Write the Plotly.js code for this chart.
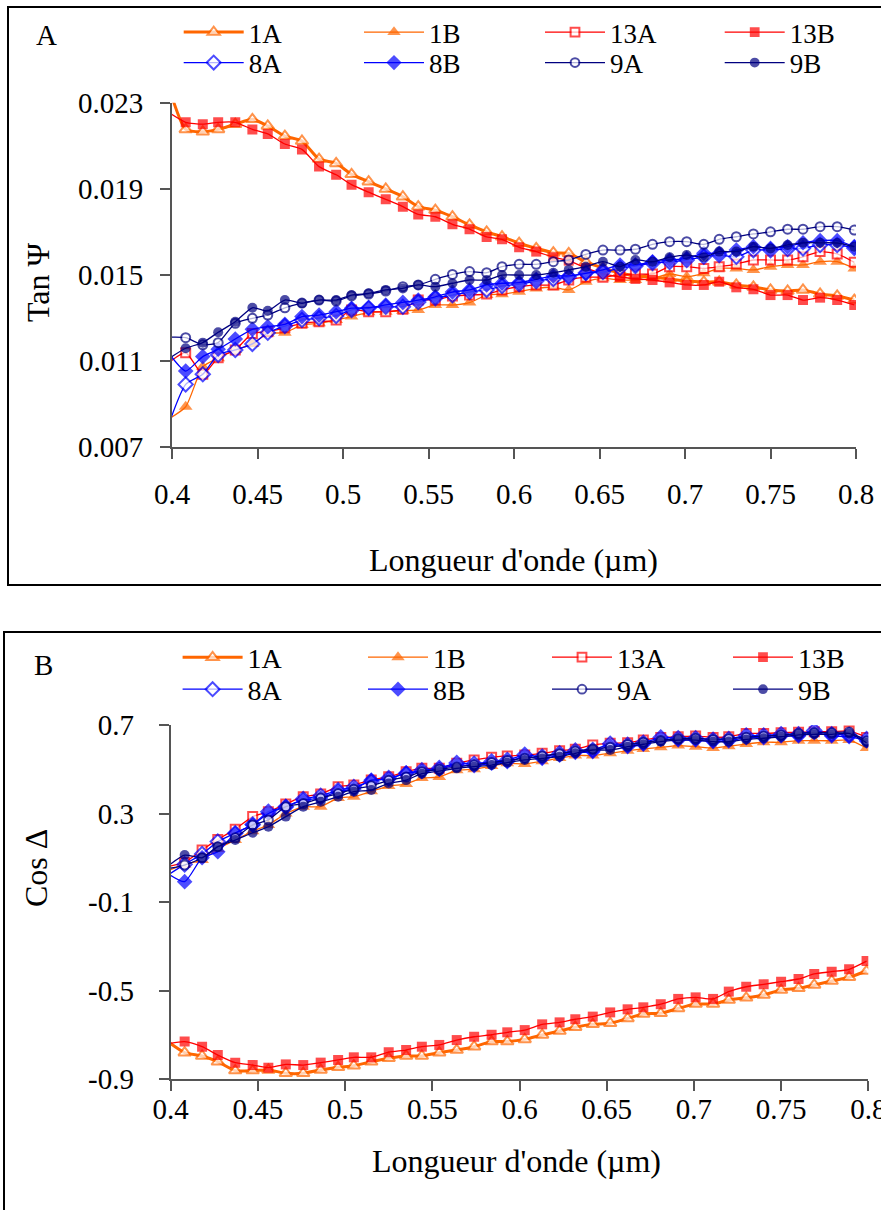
<!DOCTYPE html>
<html><head><meta charset="utf-8">
<script src="https://cdn.plot.ly/plotly-3.0.1.min.js"></script>
<style>html,body{margin:0;padding:0;background:#fff}#chart{width:881px;height:1210px}</style>
</head><body><div id="chart"></div>
<script>
// ---------------- data ----------------
const wavelength = [0.398, 0.408, 0.418, 0.427, 0.437, 0.447, 0.456, 0.466, 0.476, 0.486, 0.496, 0.505, 0.515, 0.525, 0.535, 0.544, 0.554, 0.564, 0.574, 0.584, 0.593, 0.603, 0.613, 0.623, 0.632, 0.642, 0.652, 0.662, 0.671, 0.681, 0.691, 0.701, 0.711, 0.720, 0.730, 0.740, 0.750, 0.760, 0.769, 0.779, 0.789, 0.799];
const seriesNames = ['1A', '1B', '13A', '13B', '8A', '8B', '9A', '9B'];

// Panel A : Tan Psi
const tanPsi_1A = [0.02376, 0.02176, 0.02165, 0.02176, 0.02200, 0.02223, 0.02192, 0.02145, 0.02122, 0.02038, 0.02018, 0.01967, 0.01933, 0.01899, 0.01863, 0.01817, 0.01801, 0.01770, 0.01732, 0.01700, 0.01677, 0.01647, 0.01623, 0.01603, 0.01600, 0.01560, 0.01532, 0.01509, 0.01495, 0.01490, 0.01481, 0.01471, 0.01467, 0.01467, 0.01453, 0.01444, 0.01430, 0.01425, 0.01430, 0.01411, 0.01402, 0.01383];
const tanPsi_1B = [0.00830, 0.00887, 0.01073, 0.01112, 0.01151, 0.01179, 0.01228, 0.01231, 0.01267, 0.01275, 0.01290, 0.01306, 0.01326, 0.01329, 0.01333, 0.01337, 0.01360, 0.01360, 0.01371, 0.01406, 0.01410, 0.01422, 0.01437, 0.01442, 0.01430, 0.01468, 0.01484, 0.01476, 0.01476, 0.01484, 0.01504, 0.01491, 0.01507, 0.01530, 0.01530, 0.01523, 0.01538, 0.01546, 0.01546, 0.01561, 0.01561, 0.01530];
const tanPsi_13A = [0.01091, 0.01138, 0.01038, 0.01115, 0.01151, 0.01228, 0.01236, 0.01254, 0.01275, 0.01282, 0.01290, 0.01337, 0.01329, 0.01329, 0.01340, 0.01383, 0.01383, 0.01402, 0.01406, 0.01411, 0.01430, 0.01445, 0.01453, 0.01453, 0.01476, 0.01489, 0.01489, 0.01499, 0.01504, 0.01504, 0.01538, 0.01538, 0.01530, 0.01538, 0.01550, 0.01569, 0.01569, 0.01569, 0.01584, 0.01608, 0.01597, 0.01558];
const tanPsi_13B = [0.02255, 0.02209, 0.02200, 0.02209, 0.02209, 0.02176, 0.02155, 0.02108, 0.02083, 0.02003, 0.01965, 0.01919, 0.01884, 0.01851, 0.01817, 0.01781, 0.01770, 0.01735, 0.01712, 0.01676, 0.01665, 0.01628, 0.01608, 0.01582, 0.01566, 0.01532, 0.01504, 0.01490, 0.01481, 0.01476, 0.01465, 0.01453, 0.01453, 0.01468, 0.01442, 0.01433, 0.01406, 0.01406, 0.01383, 0.01394, 0.01383, 0.01360];
const tanPsi_8A = [0.00804, 0.00991, 0.01038, 0.01128, 0.01151, 0.01179, 0.01231, 0.01262, 0.01290, 0.01299, 0.01309, 0.01337, 0.01346, 0.01352, 0.01352, 0.01374, 0.01392, 0.01406, 0.01420, 0.01430, 0.01448, 0.01457, 0.01471, 0.01481, 0.01490, 0.01509, 0.01513, 0.01532, 0.01541, 0.01555, 0.01560, 0.01569, 0.01584, 0.01592, 0.01584, 0.01615, 0.01615, 0.01620, 0.01623, 0.01639, 0.01639, 0.01625];
const tanPsi_8B = [0.01137, 0.01053, 0.01120, 0.01154, 0.01202, 0.01247, 0.01259, 0.01270, 0.01306, 0.01313, 0.01329, 0.01345, 0.01347, 0.01360, 0.01372, 0.01383, 0.01398, 0.01420, 0.01430, 0.01453, 0.01461, 0.01464, 0.01479, 0.01495, 0.01495, 0.01507, 0.01523, 0.01546, 0.01546, 0.01561, 0.01569, 0.01577, 0.01600, 0.01600, 0.01615, 0.01631, 0.01623, 0.01631, 0.01649, 0.01659, 0.01659, 0.01631];
const tanPsi_9A = [0.01210, 0.01208, 0.01175, 0.01185, 0.01275, 0.01298, 0.01313, 0.01347, 0.01369, 0.01383, 0.01378, 0.01402, 0.01411, 0.01425, 0.01445, 0.01453, 0.01479, 0.01502, 0.01515, 0.01510, 0.01538, 0.01549, 0.01549, 0.01561, 0.01569, 0.01595, 0.01615, 0.01615, 0.01619, 0.01642, 0.01654, 0.01654, 0.01642, 0.01665, 0.01677, 0.01690, 0.01700, 0.01712, 0.01712, 0.01724, 0.01724, 0.01708];
const tanPsi_9B = [0.01110, 0.01159, 0.01185, 0.01233, 0.01282, 0.01347, 0.01333, 0.01383, 0.01368, 0.01383, 0.01383, 0.01406, 0.01414, 0.01430, 0.01437, 0.01453, 0.01445, 0.01461, 0.01476, 0.01476, 0.01499, 0.01499, 0.01499, 0.01510, 0.01523, 0.01538, 0.01561, 0.01538, 0.01569, 0.01561, 0.01582, 0.01592, 0.01582, 0.01608, 0.01608, 0.01631, 0.01623, 0.01639, 0.01649, 0.01649, 0.01648, 0.01631];

// Panel B : Cos Delta
const cosDelta_1A = [-0.729, -0.781, -0.796, -0.822, -0.862, -0.862, -0.859, -0.874, -0.874, -0.859, -0.847, -0.840, -0.822, -0.806, -0.796, -0.796, -0.781, -0.769, -0.754, -0.731, -0.731, -0.721, -0.701, -0.683, -0.666, -0.653, -0.648, -0.626, -0.606, -0.603, -0.581, -0.561, -0.561, -0.543, -0.533, -0.520, -0.498, -0.490, -0.475, -0.457, -0.440, -0.412];
const cosDelta_1B = [0.040, 0.070, 0.090, 0.140, 0.180, 0.220, 0.248, 0.300, 0.330, 0.331, 0.370, 0.376, 0.400, 0.424, 0.433, 0.460, 0.465, 0.495, 0.500, 0.515, 0.527, 0.524, 0.536, 0.551, 0.562, 0.562, 0.572, 0.584, 0.592, 0.599, 0.607, 0.602, 0.596, 0.604, 0.614, 0.622, 0.622, 0.629, 0.629, 0.629, 0.632, 0.596];
const cosDelta_13A = [0.060, 0.079, 0.135, 0.183, 0.229, 0.286, 0.308, 0.343, 0.376, 0.388, 0.421, 0.429, 0.451, 0.466, 0.489, 0.504, 0.504, 0.527, 0.542, 0.554, 0.560, 0.564, 0.572, 0.584, 0.590, 0.610, 0.617, 0.620, 0.632, 0.644, 0.647, 0.650, 0.644, 0.647, 0.662, 0.662, 0.665, 0.667, 0.670, 0.670, 0.673, 0.644];
const cosDelta_13B = [-0.741, -0.731, -0.754, -0.792, -0.826, -0.837, -0.849, -0.834, -0.837, -0.826, -0.814, -0.802, -0.802, -0.779, -0.769, -0.754, -0.746, -0.724, -0.709, -0.700, -0.689, -0.679, -0.653, -0.644, -0.630, -0.618, -0.599, -0.585, -0.576, -0.562, -0.538, -0.531, -0.538, -0.505, -0.483, -0.472, -0.460, -0.448, -0.425, -0.415, -0.404, -0.367];
const cosDelta_8A = [0.020, 0.070, 0.117, 0.173, 0.211, 0.250, 0.308, 0.330, 0.365, 0.380, 0.405, 0.420, 0.445, 0.460, 0.480, 0.495, 0.505, 0.528, 0.525, 0.535, 0.542, 0.565, 0.557, 0.572, 0.584, 0.587, 0.615, 0.610, 0.620, 0.643, 0.640, 0.640, 0.633, 0.637, 0.652, 0.652, 0.658, 0.658, 0.675, 0.658, 0.655, 0.636];
const cosDelta_8B = [0.030, -0.008, 0.100, 0.127, 0.211, 0.248, 0.300, 0.331, 0.360, 0.370, 0.400, 0.410, 0.451, 0.455, 0.484, 0.489, 0.500, 0.520, 0.516, 0.527, 0.534, 0.557, 0.549, 0.564, 0.576, 0.579, 0.606, 0.602, 0.613, 0.635, 0.632, 0.632, 0.625, 0.628, 0.643, 0.643, 0.650, 0.650, 0.665, 0.650, 0.647, 0.628];
const cosDelta_9A = [0.050, 0.067, 0.100, 0.150, 0.190, 0.248, 0.271, 0.331, 0.345, 0.370, 0.390, 0.410, 0.425, 0.450, 0.465, 0.489, 0.500, 0.510, 0.520, 0.530, 0.540, 0.550, 0.560, 0.570, 0.582, 0.592, 0.600, 0.612, 0.622, 0.630, 0.638, 0.640, 0.635, 0.638, 0.645, 0.650, 0.655, 0.662, 0.665, 0.665, 0.668, 0.628];
const cosDelta_9B = [0.060, 0.112, 0.100, 0.150, 0.180, 0.213, 0.240, 0.286, 0.331, 0.353, 0.376, 0.399, 0.406, 0.436, 0.451, 0.480, 0.492, 0.504, 0.512, 0.519, 0.530, 0.542, 0.549, 0.557, 0.572, 0.587, 0.587, 0.602, 0.613, 0.625, 0.632, 0.632, 0.625, 0.625, 0.635, 0.640, 0.647, 0.655, 0.658, 0.658, 0.662, 0.620];

// tick labels
const xTickVals = [0.4, 0.45, 0.5, 0.55, 0.6, 0.65, 0.7, 0.75, 0.8];
const xTickText = ['0.4', '0.45', '0.5', '0.55', '0.6', '0.65', '0.7', '0.75', '0.8'];
const tanTickVals = [0.007, 0.011, 0.015, 0.019, 0.023];
const tanTickText = ['0.007', '0.011', '0.015', '0.019', '0.023'];
const cosTickVals = [-0.9, -0.5, -0.1, 0.3, 0.7];
const cosTickText = ['-0.9', '-0.5', '-0.1', '0.3', '0.7'];

const xTitle = "Longueur d'onde (\u00B5m)";
const yTitleA = 'Tan \u03A8';
const yTitleB = 'Cos \u0394';

// ---------------- styling ----------------
const W = 881, H = 1210;
const FONT = 'Liberation Serif, Times New Roman, serif';
const px = v => v / W;
const py = v => 1 - v / H;

const styles = {
  '1A':  {color: '#FF6600', width: 3,   symbol: 'triangle-up', open: true,  size: 11},
  '1B':  {color: '#FF6600', width: 1.3, symbol: 'triangle-up', open: false, size: 12},
  '13A': {color: '#FF0000', width: 1.3, symbol: 'square',      open: true,  size: 9},
  '13B': {color: '#FF0000', width: 1.3, symbol: 'square',      open: false, size: 10},
  '8A':  {color: '#0000FF', width: 1.3, symbol: 'diamond',     open: true,  size: 11},
  '8B':  {color: '#0000FF', width: 1.3, symbol: 'diamond',     open: false, size: 12},
  '9A':  {color: '#000080', width: 1.3, symbol: 'circle',      open: true,  size: 9},
  '9B':  {color: '#000080', width: 1.3, symbol: 'circle',      open: false, size: 10}
};

const panelA = {'1A': tanPsi_1A, '1B': tanPsi_1B, '13A': tanPsi_13A, '13B': tanPsi_13B, '8A': tanPsi_8A, '8B': tanPsi_8B, '9A': tanPsi_9A, '9B': tanPsi_9B};
const panelB = {'1A': cosDelta_1A, '1B': cosDelta_1B, '13A': cosDelta_13A, '13B': cosDelta_13B, '8A': cosDelta_8A, '8B': cosDelta_8B, '9A': cosDelta_9A, '9B': cosDelta_9B};

// legend geometry (pixel positions of each legend column / row), font size per panel
const legCols = [[178.7, 359, 540, 719.7], [177.6, 363, 547, 728]];
const legRows = [[32.5, 63], [657.5, 689.5]];
const legFont = [27, 28];

const traces = [];
const layout = {
  width: W, height: H,
  margin: {l: 0, r: 0, t: 0, b: 0},
  paper_bgcolor: '#fff', plot_bgcolor: '#fff',
  font: {family: FONT, size: 29, color: '#000'},
  showlegend: true,
  annotations: [], shapes: []
};

[panelA, panelB].forEach((panel, p) => {
  seriesNames.forEach((name, i) => {
    const s = styles[name];
    const idx = p * 8 + i;
    const legId = idx === 0 ? 'legend' : 'legend' + (idx + 1);
    // first point lies just left of the axis (clipped): no marker for it
    const sizes = wavelength.map((w, k) => (k === 0 ? 0 : s.size));
    traces.push({
      type: 'scatter', mode: 'lines+markers', name: name,
      x: wavelength, y: panel[name],
      xaxis: p === 0 ? 'x' : 'x2', yaxis: p === 0 ? 'y' : 'y2',
      line: {color: s.color, width: s.width, shape: 'spline', smoothing: 0.6},
      marker: {symbol: s.symbol, size: sizes,
        color: s.open ? '#FFFFFF' : s.color,
        line: {color: s.color, width: s.open ? 2 : 0}},
      legend: legId, hoverinfo: 'skip'
    });
    const col = i % 4, row = Math.floor(i / 4);
    layout[legId] = {
      x: px(legCols[p][col]), xanchor: 'left',
      y: py(legRows[p][row]), yanchor: 'middle',
      orientation: 'v', bgcolor: 'rgba(0,0,0,0)', borderwidth: 0,
      itemwidth: 60, font: {family: FONT, size: legFont[p], color: '#000'}
    };
  });
});

const axisCommon = {
  showgrid: false, zeroline: false, showline: true,
  linecolor: '#555', linewidth: 2,
  ticks: 'outside', ticklen: 10, tickwidth: 2, tickcolor: '#555',
  tickfont: {family: FONT, size: 29, color: '#000'},
  tickmode: 'array', fixedrange: true, ticklabeloverflow: 'allow'
};

layout.xaxis = Object.assign({}, axisCommon, {
  domain: [px(172), px(856)], range: [0.4, 0.8], anchor: 'y',
  tickvals: xTickVals, ticktext: xTickText, ticklabelstandoff: 10
});
layout.yaxis = Object.assign({}, axisCommon, {
  domain: [py(447), py(102.7)], range: [0.007, 0.023], anchor: 'x',
  tickvals: tanTickVals, ticktext: tanTickText, ticklabelstandoff: 11
});
layout.xaxis2 = Object.assign({}, axisCommon, {
  domain: [px(170.7), px(868.3)], range: [0.4, 0.8], anchor: 'y2',
  tickvals: xTickVals, ticktext: xTickText, ticklabelstandoff: -7
});
layout.yaxis2 = Object.assign({}, axisCommon, {
  domain: [py(1079), py(725)], range: [-0.9, 0.7], anchor: 'x2',
  tickvals: cosTickVals, ticktext: cosTickText, ticklabelstandoff: 19
});

function ann(text, x, y, opts) {
  return Object.assign({text: text, xref: 'paper', yref: 'paper', x: px(x), y: py(y),
    xanchor: 'center', yanchor: 'middle', showarrow: false,
    font: {family: FONT, size: 32, color: '#000'}}, opts || {});
}
layout.annotations.push(
  ann('A', 46, 35, {font: {family: FONT, size: 29, color: '#000'}}),
  ann('B', 43, 665, {font: {family: FONT, size: 29, color: '#000'}}),
  ann(xTitle, 513, 560),
  ann(xTitle, 516, 1161),
  ann(yTitleA, 38, 282, {textangle: -90}),
  ann(yTitleB, 36, 868, {textangle: -90})
);

layout.shapes.push(
  {type: 'rect', xref: 'paper', yref: 'paper', x0: px(8), x1: 1.05, y0: py(585), y1: py(7),
   line: {color: '#000', width: 2}, fillcolor: 'rgba(0,0,0,0)'},
  {type: 'rect', xref: 'paper', yref: 'paper', x0: px(4), x1: 1.05, y0: -0.05, y1: py(632),
   line: {color: '#000', width: 2}, fillcolor: 'rgba(0,0,0,0)'}
);

Plotly.newPlot('chart', traces, layout, {displayModeBar: false, staticPlot: true});
</script>
</body></html>
